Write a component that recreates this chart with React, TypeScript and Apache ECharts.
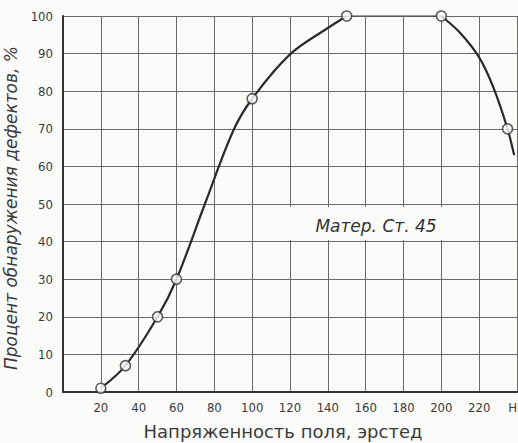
import React, { useEffect, useRef } from "react";
import * as echarts from "echarts";

const xTicks = [0, 20, 40, 60, 80, 100, 120, 140, 160, 180, 200, 220, 240];
const xTickLabels = ["", "20", "40", "60", "80", "100", "120", "140", "160", "180", "200", "220", "H"];
const yTicks = [0, 10, 20, 30, 40, 50, 60, 70, 80, 90, 100];

// measured points (hollow circles)
const pointX = [20, 33, 50, 60, 100, 150, 200, 235];
const pointY = [1, 7, 20, 30, 78, 100, 100, 70];

// curve: rising part, plateau, falling part
const riseX = [20, 33, 50, 60, 75, 90, 100, 120, 140, 150];
const riseY = [1, 7, 20, 30, 50, 69.5, 78, 89.8, 96.8, 100];
const flatX = [150, 200];
const flatY = [100, 100];
const fallX = [200, 210, 220, 227.5, 235, 238.5];
const fallY = [100, 95.5, 89, 81, 70, 63];

const xTitle = "Напряженность поля, эрстед";
const yTitle = "Процент обнаружения дефектов, %";
const note = "Матер. Ст. 45";

export default function App() {
  const ref = useRef<HTMLDivElement>(null);
  useEffect(() => {
    document.body.style.margin = "0";
    const chart = echarts.init(ref.current!, null, { renderer: "svg" });
    const font = "'DejaVu Sans Condensed', 'Liberation Sans Narrow', 'DejaVu Sans', sans-serif";
    const wide = "'DejaVu Sans', sans-serif";
    const pairs = (xs: number[], ys: number[]) => xs.map((x, i) => [x, ys[i]]);
    chart.setOption({
      animation: false,
      backgroundColor: "#fbfbfa",
      grid: { left: 63, right: 1, top: 16, bottom: 51, outerBoundsMode: "none", containLabel: false },
      xAxis: {
        type: "value",
        min: 0,
        max: 240,
        interval: 20,
        name: xTitle,
        nameLocation: "middle",
        nameGap: 30,
        nameTextStyle: { color: "#3a3a3a", fontSize: 18, fontFamily: wide, padding: [0, 14, 0, 0] },
        axisLine: { show: true, lineStyle: { color: "#333", width: 2 } },
        axisTick: { show: false },
        axisLabel: {
          color: "#3a3a3a",
          fontSize: 13,
          fontFamily: font,
          margin: 9,
          alignMaxLabel: "right",
          formatter: (v: number) => {
            const i = xTicks.indexOf(v);
            return i >= 0 ? xTickLabels[i] : "";
          },
        },
        splitLine: { show: true, lineStyle: { color: "#6a6a6a", width: 1 } },
      },
      yAxis: {
        type: "value",
        min: 0,
        max: 100,
        interval: 10,
        name: yTitle,
        nameLocation: "middle",
        nameGap: 44,
        nameRotate: 90,
        nameTextStyle: { color: "#3a3a3a", fontSize: 17, fontFamily: wide, fontStyle: "italic", padding: [0, 8, 0, 0] },
        axisLine: { show: true, lineStyle: { color: "#333", width: 2 } },
        axisTick: { show: false },
        axisLabel: {
          color: "#3a3a3a",
          fontSize: 13,
          fontFamily: font,
          margin: 10,
          formatter: (v: number) => (yTicks.indexOf(v) >= 0 ? String(v) : ""),
        },
        splitLine: { show: true, lineStyle: { color: "#6a6a6a", width: 1 } },
      },
      graphic: [
        {
          type: "rect",
          shape: { x: 287, y: 207, width: 171, height: 33 },
          style: { fill: "#fbfbfa" },
          z: 5,
        },
        {
          type: "text",
          x: 376,
          y: 226,
          style: {
            text: note,
            fontSize: 17,
            fontStyle: "italic",
            fontFamily: wide,
            fill: "#333",
            align: "center",
            verticalAlign: "middle",
          },
          z: 6,
        },
      ],
      series: [
        {
          type: "line",
          data: pairs(riseX, riseY),
          smooth: 0.35,
          symbol: "none",
          lineStyle: { color: "#2a2a2a", width: 2.2 },
          z: 3,
        },
        {
          type: "line",
          data: pairs(flatX, flatY),
          symbol: "none",
          lineStyle: { color: "#555", width: 1.3 },
          z: 3,
        },
        {
          type: "line",
          data: pairs(fallX, fallY),
          smooth: 0.3,
          symbol: "none",
          lineStyle: { color: "#2a2a2a", width: 2.2 },
          z: 3,
        },
        {
          type: "scatter",
          data: pairs(pointX, pointY),
          symbol: "circle",
          symbolSize: 10,
          itemStyle: { color: "#ffffff", borderColor: "#333", borderWidth: 1.6 },
          z: 4,
        },
      ],
    });
    return () => chart.dispose();
  }, []);
  return <div ref={ref} style={{ width: 518, height: 443 }} />;
}
